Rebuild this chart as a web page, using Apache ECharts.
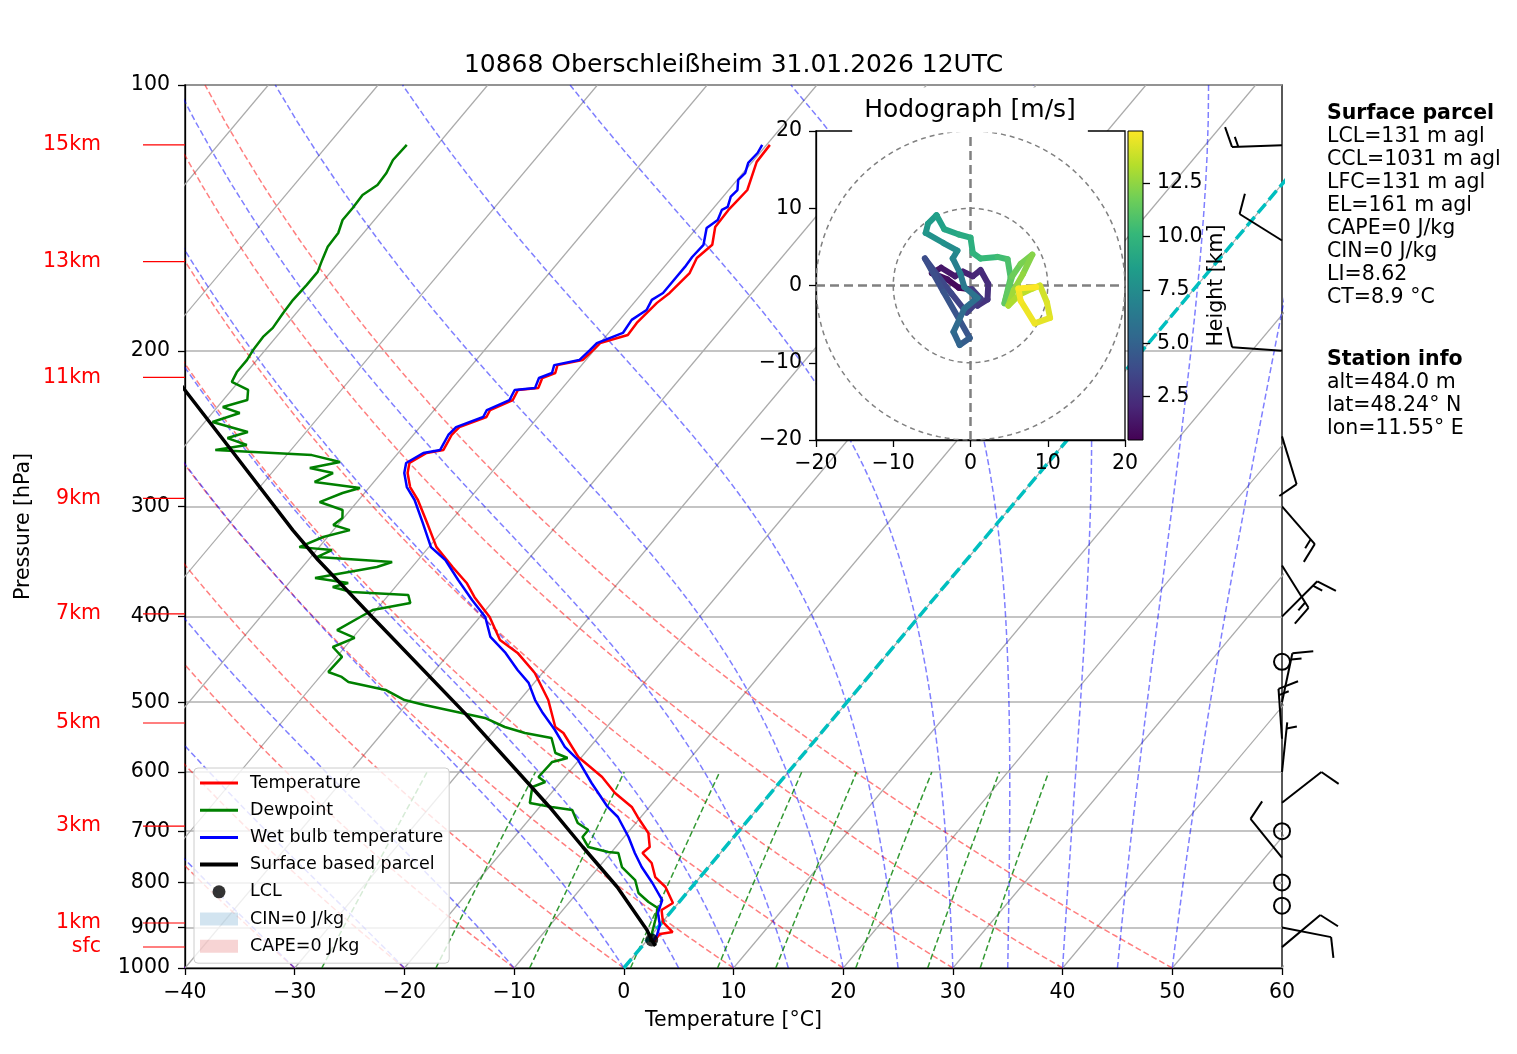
<!DOCTYPE html>
<html>
<head>
<meta charset="utf-8">
<script src="https://cdn.jsdelivr.net/npm/echarts@6/dist/echarts.min.js"></script>
<style>
  html, body { margin: 0; padding: 0; background: #fff; }
  #chart { width: 1517px; height: 1054px; }
</style>
</head>
<body>
<div id="chart"></div>
<script>
const FONT = 'DejaVu Sans';
const SKEW = 67.6; // degC shift per decade of pressure

// ---- sounding (hPa, degC) ----
const tempP = [116.9,122.2,131.5,134.9,138.5,144.8,151.7,157.0,163.3,172.0,176.5,186.0,191.9,196.0,199.6,204.9,207.6,211.9,214.7,220.3,221.5,227.4,233.4,237.7,244.0,249.1,259.0,261.1,268.0,275.1,285.3,295.1,313.3,333.7,351.5,366.4,380.2,400.4,425.1,439.7,463.3,497.2,533.4,541.8,576.8,607.7,633.6,657.1,674.5,703.2,729.4,740.9,760.5,788.8,809.6,844.0,859.6,887.0,910.5,915.3,929.6,934.5];
const tempT = [-49.7,-49.6,-48.3,-48.4,-48.5,-48.4,-47.3,-47.7,-47.2,-47.5,-47.9,-48.2,-48.1,-50.0,-50.1,-50.3,-52.2,-51.8,-52.6,-52.2,-53.9,-53.6,-54.9,-54.7,-56.4,-56.5,-56.1,-57.4,-58.2,-57.6,-56.3,-54.6,-52.0,-49.3,-46.3,-43.8,-42.0,-39.1,-36.4,-33.8,-30.7,-27.4,-24.7,-23.5,-20.3,-16.6,-14.2,-11.6,-10.3,-8.1,-6.9,-7.1,-5.5,-4.1,-2.4,-0.5,-1.0,0.05,1.7,0.7,0.7,0.9];

const dewP = [116.9,121.6,125.8,129.8,133.2,137.8,142.2,147.1,152.5,157.8,162.8,168.4,175.1,181.2,188.4,192.9,199.6,204.9,211.4,216.9,221.5,227.4,231.6,235.2,240.8,247.2,251.1,255.7,259.0,262.5,267.3,271.5,275.1,281.5,286.0,289.8,296.7,302.9,309.3,315.0,319.2,325.0,333.7,336.3,342.4,346.9,351.5,361.7,366.4,370.3,375.2,378.1,386.1,393.2,400.4,414.4,422.9,433.0,444.3,462.1,468.1,474.3,484.3,497.2,503.7,514.4,521.0,533.4,541.8,548.9,570.8,578.3,584.3,607.7,615.7,623.7,650.3,657.1,662.3,685.2,697.8,710.6,729.4,739.0,740.9,768.5,795.0,822.4,841.8,855.2,882.4,917.6,934.5];
const dewT = [-82.8,-82.9,-82.5,-82.4,-83.0,-82.9,-82.9,-82.3,-82.2,-81.7,-81.2,-81.2,-81.3,-81.2,-81.0,-81.2,-81.1,-80.9,-80.9,-80.6,-78.5,-77.8,-79.5,-77.5,-79.3,-75.3,-76.7,-74.4,-76.9,-67.7,-64.6,-66.9,-64.4,-65.4,-60.8,-62.0,-63.4,-60.7,-60.1,-60.4,-58.5,-60.4,-61.8,-58.6,-59.4,-52.2,-53.2,-58.0,-54.6,-55.7,-53.6,-48.2,-47.4,-50.3,-50.9,-52.0,-49.8,-51.1,-49.5,-49.6,-48.0,-47.0,-43.0,-40.5,-38.3,-34.3,-31.8,-29.3,-27.0,-24.2,-22.7,-21.2,-22.3,-22.4,-21.4,-22.2,-21.2,-18.9,-16.8,-15.3,-13.8,-13.8,-12.5,-10.3,-9.3,-7.9,-5.7,-4.4,-2.8,-1.5,-0.8,0.0,0.4];

const wetP = [116.9,119.4,122.5,125.8,128.1,131.5,133.8,137.4,138.5,142.2,145.2,151.7,156.6,160.7,165.0,172.0,175.1,179.8,184.5,190.9,196.0,199.6,204.9,207.6,211.9,214.7,220.3,221.5,227.4,233.4,237.7,244.0,249.1,259.0,261.1,268.0,275.1,285.3,295.1,313.3,333.7,345.1,363.6,383.1,400.4,421.8,439.7,459.7,475.5,497.2,514.4,537.6,561.9,581.3,617.3,657.1,674.5,710.6,740.9,768.5,801.2,837.7,866.3,894.0,917.6,934.5];
const wetT = [-50.4,-50.2,-50.3,-49.8,-49.9,-49.2,-49.3,-48.8,-49.1,-48.7,-49.1,-48.1,-48.2,-48.1,-48.1,-48.1,-48.6,-48.3,-48.9,-48.7,-50.3,-50.4,-50.6,-52.5,-52.1,-52.9,-52.5,-54.2,-53.9,-55.2,-55.0,-56.7,-56.8,-56.4,-57.7,-58.5,-57.9,-56.6,-54.9,-52.4,-49.8,-47.5,-44.8,-42.0,-39.5,-37.5,-34.9,-32.5,-30.5,-28.6,-26.9,-24.5,-22.3,-20.1,-17.1,-13.8,-12.1,-9.6,-7.8,-6.1,-3.9,-1.7,-1.1,0.0,0.5,0.6];

const parcelP = [944.2,929.6,905.6,809.6,729.4,657.1,617.3,514.5,400.4,345.1,319.2,261.1,221.4,200];
const parcelT = [1.2,0.4,-0.8,-6.8,-13.0,-19.1,-22.9,-34.0,-49.8,-59.1,-63.7,-75.0,-84.3,-90.0];

const lclP = [929.6];
const lclT = [0.4];

// ---- wind barbs (hPa, deg from, kt) ----
const windP   = [117,150,200,250,300,350,400,450,500,550,600,650,700,750,800,850,900,947];
const windDir = [268,302,274,163,139,148,45,0,12,356,6,52,0,321,0,0,101,50];
const windSpd = [15,10,10,10,15,15,15,0,15,15,5,10,0,10,0,0,10,10];

// ---- height marks ----
const heightP   = [116.9,158.5,214.3,293.8,397.2,527.9,690.6,889.3,946.7];
const heightLbl = ['15km','13km','11km','9km','7km','5km','3km','1km','sfc'];

// ---- hodograph (m/s, km) ----
const hodoU = [0.0,-1.5,-3.0,-5.0,-3.8,-2.0,-1.0,0.3,1.3,2.3,2.2,0.9,0.2,1.3,-0.5,-2.5,-5.9,-3.5,-0.1,-1.4,-2.2,-0.8,0.9,-0.8,-1.3,-2.3,-1.7,-3.5,-5.8,-5.5,-4.4,-3.4,-1.5,0.0,0.3,1.3,3.5,4.8,5.2,4.4,5.4,6.5,8.0,6.8,5.6,4.9,6.3,8.0,9.0,9.9,10.3,8.3,6.5,6.2,8.5];
const hodoV = [-0.5,-0.3,0.8,1.6,2.3,1.2,1.8,1.2,2.0,0.2,-1.8,-2.6,-0.5,-1.7,-3.5,-1.0,3.5,-0.8,-6.8,-7.7,-6.0,-3.0,-1.6,-0.2,1.5,3.5,4.5,5.5,6.8,8.0,9.1,7.3,6.6,6.2,4.2,3.5,3.7,3.4,1.0,-2.3,1.2,2.8,4.0,1.5,-0.6,-2.6,-1.2,-0.4,0.0,-2.2,-4.2,-4.9,-2.0,-0.4,-0.2];
const hodoH = [0.5,0.7,0.9,1.1,1.3,1.5,1.7,1.9,2.1,2.3,2.5,2.7,2.9,3.1,3.3,3.5,3.8,4.1,4.5,5.0,5.3,5.6,5.9,6.2,6.5,6.9,7.3,7.6,7.9,8.2,8.5,8.8,9.1,9.4,9.7,10.0,10.3,10.6,10.9,11.2,11.5,11.8,12.1,12.4,12.7,13.0,13.3,13.6,13.8,14.1,14.3,14.5,14.7,14.85,14.95];
const hodoRings = [10, 20];
const cbTicks = [2.5, 5, 7.5, 10, 12.5];
const CB_MIN = 0.476, CB_MAX = 14.93;

// ---- reference line parameters ----
const isoTemps   = [-100,-90,-80,-70,-60,-50,-40,-30,-20,-10,0,10,20,30,40,50,60];
const dryThetas  = [-50,-40,-30,-20,-10,0,10,20,30,40,50];
const moistT0    = [-50,-40,-30,-20,-10,0,5,10,15,20,25,30,35,40,45,50];
const mixRatios  = [0.0004,0.001,0.002,0.004,0.007,0.01,0.016,0.024,0.032];
const pressTicks = [100,200,300,400,500,600,700,800,900,1000];

const TITLE = '10868 Oberschleißheim 31.01.2026 12UTC';
const parcelInfo  = ['Surface parcel','LCL=131 m agl','CCL=1031 m agl','LFC=131 m agl','EL=161 m agl','CAPE=0 J/kg','CIN=0 J/kg','LI=8.62','CT=8.9 °C'];
const stationInfo = ['Station info','alt=484.0 m','lat=48.24° N','lon=11.55° E'];

// skew-T mapping: x = T + SKEW*log10(1000/p), y = log10(p)
const pt = (t, p) => [t + SKEW * (3 - Math.log10(p)), Math.log10(p)];
const minus = v => String(v).replace('-', '\u2212');

// thermodynamics for the background lines
const Rd = 287.04749, Lv = 2.50084e6, Cpd = 1004.666, EPS = 0.622, KAPPA = Rd / Cpd;
const satVap = T => 6.112 * Math.exp(17.67 * (T - 273.15) / (T - 29.65));
function dTdp(p, T) {
  const e = satVap(T), rs = EPS * e / (p - e);
  return (Rd * T + Lv * rs) / (Cpd + Lv * Lv * rs * EPS / (Rd * T * T)) / p;
}
function moistLine(t0) {
  let T = t0 + 273.15, p = 1000;
  const n = 90, dp = -900 / n, out = [pt(t0, p)];
  for (let i = 0; i < n; i++) {
    const k1 = dTdp(p, T), k2 = dTdp(p + dp / 2, T + dp / 2 * k1);
    const k3 = dTdp(p + dp / 2, T + dp / 2 * k2), k4 = dTdp(p + dp, T + dp * k3);
    T += dp / 6 * (k1 + 2 * k2 + 2 * k3 + k4); p += dp;
    out.push(pt(T - 273.15, p));
  }
  return out;
}
function dryLine(th) {
  const out = [];
  for (let p = 1000; p >= 100; p -= 10) out.push(pt((th + 273.15) * Math.pow(p / 1000, KAPPA) - 273.15, p));
  return out;
}
function mixLine(w) {
  const out = [];
  for (let p = 1000; p >= 600; p -= 10) {
    const v = Math.log(p * w / (EPS + w) / 6.112);
    out.push(pt(243.5 * v / (17.67 - v), p));
  }
  return out;
}

const series = [];
function bgLine(data, color, width, type) {
  series.push({ type: 'line', xAxisIndex: 0, yAxisIndex: 0, data, symbol: 'none', silent: true, z: 1,
    lineStyle: { color, width, type } });
}
isoTemps.forEach(t => bgLine([pt(t, 1000), pt(t, 100)], '#ababab', 1.2, 'solid'));
dryThetas.forEach(th => bgLine(dryLine(th), 'rgba(255,0,0,0.5)', 1.5, [6, 3]));
moistT0.forEach(t => bgLine(moistLine(t), 'rgba(0,0,255,0.5)', 1.5, [6, 3]));
mixRatios.forEach(w => bgLine(mixLine(w), 'rgba(0,128,0,0.8)', 1.5, [6, 3]));
bgLine([pt(0, 1000), pt(0, 100)], '#00bfbf', 3.5, [12, 5]);

// red height marks, drawn outward from the pressure axis
series.push({
  type: 'custom', xAxisIndex: 0, yAxisIndex: 0, z: 5, clip: false, silent: true,
  data: heightP.map(p => [-40, Math.log10(p)]),
  renderItem: (params, api) => {
    const c = api.coord([api.value(0), api.value(1)]);
    return { type: 'line', shape: { x1: c[0] - 42, y1: c[1], x2: c[0], y2: c[1] }, style: { stroke: '#ff0000', lineWidth: 1.2 } };
  }
});

function profile(name, P, T, color, width) {
  series.push({ type: 'line', name, xAxisIndex: 0, yAxisIndex: 0, symbol: 'none', z: 3,
    data: P.map((p, i) => pt(T[i], p)), lineStyle: { color, width }, itemStyle: { color } });
}
profile('Temperature', tempP, tempT, '#ff0000', 2.5);
profile('Dewpoint', dewP, dewT, '#008000', 2.5);
profile('Wet bulb temperature', wetP, wetT, '#0000ff', 2.5);
profile('Surface based parcel', parcelP, parcelT, '#000000', 3.5);
series.push({ type: 'scatter', name: 'LCL', xAxisIndex: 0, yAxisIndex: 0, z: 4, symbolSize: 13,
  itemStyle: { color: '#000' }, data: lclP.map((p, i) => pt(lclT[i], p)) });
series.push({ type: 'line', name: 'CIN=0 J/kg', xAxisIndex: 0, yAxisIndex: 0, symbol: 'none', data: [],
  lineStyle: { color: 'rgba(31,119,180,0.2)' }, itemStyle: { color: 'rgba(31,119,180,0.2)' } });
series.push({ type: 'line', name: 'CAPE=0 J/kg', xAxisIndex: 0, yAxisIndex: 0, symbol: 'none', data: [],
  lineStyle: { color: 'rgba(214,39,40,0.2)' }, itemStyle: { color: 'rgba(214,39,40,0.2)' } });

// wind barbs on the right spine
series.push({
  type: 'custom', xAxisIndex: 0, yAxisIndex: 0, z: 5, clip: false, silent: true,
  data: windP.map((p, i) => [60, Math.log10(p), windDir[i], windSpd[i]]),
  renderItem: (params, api) => {
    const c = api.coord([api.value(0), api.value(1)]);
    const st = { stroke: '#000', lineWidth: 2, fill: null };
    const spd = api.value(3);
    if (spd < 2.5) return { type: 'circle', shape: { cx: c[0], cy: c[1], r: 8 }, style: st };
    const a = api.value(2) * Math.PI / 180, L = 50, sp = 6.25;
    const sx = Math.sin(a), sy = -Math.cos(a), fx = -sy, fy = sx;
    const tip = [c[0] + sx * L, c[1] + sy * L];
    const kids = [{ type: 'line', shape: { x1: c[0], y1: c[1], x2: tip[0], y2: tip[1] }, style: st }];
    const full = Math.floor(spd / 10), half = (spd % 10) >= 5 ? 1 : 0;
    let k = 0;
    for (let i = 0; i < full; i++, k++) {
      const b = [tip[0] - sx * sp * k, tip[1] - sy * sp * k];
      kids.push({ type: 'line', shape: { x1: b[0], y1: b[1], x2: b[0] + fx * 20 + sx * 6.25, y2: b[1] + fy * 20 + sy * 6.25 }, style: st });
    }
    if (half) {
      if (full === 0) k = 1;
      const b = [tip[0] - sx * sp * k, tip[1] - sy * sp * k];
      kids.push({ type: 'line', shape: { x1: b[0], y1: b[1], x2: b[0] + fx * 10 + sx * 3.1, y2: b[1] + fy * 10 + sy * 3.1 }, style: st });
    }
    return { type: 'group', children: kids };
  }
});

// hodograph
const ringStyle = { color: '#808080', width: 1.5, type: [5, 4] };
hodoRings.forEach(r => {
  const d = [];
  for (let a = 0; a <= 360; a += 3) d.push([r * Math.cos(a * Math.PI / 180), r * Math.sin(a * Math.PI / 180)]);
  series.push({ type: 'line', xAxisIndex: 1, yAxisIndex: 2, data: d, symbol: 'none', silent: true, z: 8, lineStyle: ringStyle });
});
series.push({ type: 'line', xAxisIndex: 1, yAxisIndex: 2, data: [[-20, 0], [20, 0]], symbol: 'none', silent: true, z: 8,
  lineStyle: { color: '#808080', width: 2.5, type: [9, 5] } });
series.push({ type: 'line', xAxisIndex: 1, yAxisIndex: 2, data: [[0, -20], [0, 20]], symbol: 'none', silent: true, z: 8,
  lineStyle: { color: '#808080', width: 2.5, type: [9, 5] } });
const hodoIndex = series.length;
series.push({
  type: 'custom', xAxisIndex: 1, yAxisIndex: 2, z: 9, silent: true,
  data: hodoU.slice(0, -1).map((u, i) => [u, hodoV[i], hodoU[i + 1], hodoV[i + 1], (hodoH[i] + hodoH[i + 1]) / 2]),
  encode: { x: [0, 2], y: [1, 3] },
  renderItem: (params, api) => {
    const a = api.coord([api.value(0), api.value(1)]), b = api.coord([api.value(2), api.value(3)]);
    return { type: 'line', shape: { x1: a[0], y1: a[1], x2: b[0], y2: b[1] },
      style: { stroke: api.visual('color'), lineWidth: 6, lineCap: 'round' } };
  }
});

const viridis = ['#440154','#482878','#3e4989','#31688e','#26828e','#1f9e89','#35b779','#6ece58','#b5de2b','#fde725'];
const labelStyle = { fontFamily: FONT, fontSize: 20.5, color: '#000' };
const blackLine = { show: true, onZero: false, lineStyle: { color: '#000', width: 1.3 } };
const outTick = { show: true, length: 7, lineStyle: { color: '#000', width: 1.3 } };
const lineIcon = 'path://M0,0h38v3h-38z';

const graphics = [
  { type: 'text', x: 733.5, y: 65, z: 20, style: { text: TITLE, fontFamily: FONT, fontSize: 25, fill: '#000', align: 'center', verticalAlign: 'middle' } },
  { type: 'text', x: 970, y: 110, z: 20, style: { text: 'Hodograph [m/s]', fontFamily: FONT, fontSize: 25, fill: '#000', align: 'center', verticalAlign: 'middle',
    backgroundColor: '#fff', padding: [7, 12, 13, 12] } },
  { type: 'rect', z: 20, shape: { x: 1128, y: 131, width: 15, height: 309 },
    style: { stroke: '#000', lineWidth: 1,
      fill: new echarts.graphic.LinearGradient(0, 0, 0, 1, viridis.slice().reverse().map((c, i) => ({ offset: i / (viridis.length - 1), color: c }))) } }
];
parcelInfo.forEach((s, i) => graphics.push({ type: 'text', x: 1327, y: 114 + 23 * i, z: 20,
  style: { text: s, fontFamily: FONT, fontSize: 20.5, fontWeight: i === 0 ? 'bold' : 'normal', fill: '#000', verticalAlign: 'middle' } }));
stationInfo.forEach((s, i) => graphics.push({ type: 'text', x: 1327, y: 360 + 23 * i, z: 20,
  style: { text: s, fontFamily: FONT, fontSize: 20.5, fontWeight: i === 0 ? 'bold' : 'normal', fill: '#000', verticalAlign: 'middle' } }));

const option = {
  animation: false,
  backgroundColor: '#fff',
  grid: [
    { left: 185, top: 85, width: 1097, height: 883, show: true, borderColor: '#000', borderWidth: 1.3, backgroundColor: 'transparent' },
    { left: 816, top: 131, width: 309, height: 309, show: true, borderColor: '#000', borderWidth: 1.3, backgroundColor: '#fff', z: 6 },
    { left: 1128, top: 131, width: 15, height: 309, show: false }
  ],
  xAxis: [
    { type: 'value', gridIndex: 0, min: -40, max: 60, interval: 10, axisLine: blackLine, axisTick: outTick,
      axisLabel: Object.assign({ margin: 14, formatter: minus }, labelStyle), splitLine: { show: false },
      name: 'Temperature [°C]', nameLocation: 'middle', nameGap: 42, nameTextStyle: labelStyle },
    { type: 'value', gridIndex: 1, min: -20, max: 20, interval: 10, z: 7, axisLine: blackLine, axisTick: outTick,
      axisLabel: Object.assign({ margin: 13, formatter: minus }, labelStyle), splitLine: { show: false } },
    { type: 'value', gridIndex: 2, show: false, min: 0, max: 1 }
  ],
  yAxis: [
    { type: 'value', gridIndex: 0, min: 2, max: 3, inverse: true, axisLine: blackLine,
      axisTick: Object.assign({ customValues: pressTicks.map(p => Math.log10(p)) }, outTick),
      axisLabel: Object.assign({ margin: 15, customValues: pressTicks.map(p => Math.log10(p)), formatter: v => String(Math.round(Math.pow(10, v))) }, labelStyle),
      splitLine: { show: true, lineStyle: { color: '#b0b0b0', width: 1.5 } },
      name: 'Pressure [hPa]', nameLocation: 'middle', nameGap: 151, nameRotate: 90, nameTextStyle: labelStyle },
    { type: 'value', gridIndex: 0, min: 2, max: 3, inverse: true, position: 'left',
      axisLine: { show: false, onZero: false },
      axisTick: { show: false },
      axisLabel: { margin: 84, color: '#ff0000', fontFamily: FONT, fontSize: 20.5, customValues: heightP.map(p => Math.log10(p)),
        formatter: v => { const i = heightP.findIndex(p => Math.abs(Math.log10(p) - v) < 1e-6); return i < 0 ? '' : heightLbl[i]; } },
      splitLine: { show: false } },
    { type: 'value', gridIndex: 1, min: -20, max: 20, interval: 10, z: 7, axisLine: blackLine, axisTick: outTick,
      axisLabel: Object.assign({ margin: 14, formatter: minus }, labelStyle), splitLine: { show: false } },
    { type: 'value', gridIndex: 2, min: CB_MIN, max: CB_MAX, position: 'right', z: 21,
      axisLine: { show: false, onZero: false },
      axisTick: Object.assign({ customValues: cbTicks }, outTick),
      axisLabel: Object.assign({ margin: 14, customValues: cbTicks, formatter: v => v.toFixed(1) }, labelStyle),
      splitLine: { show: false },
      name: 'Height [km]', nameLocation: 'middle', nameGap: 58, nameRotate: 90, nameTextStyle: labelStyle }
  ],
  visualMap: { type: 'continuous', show: false, seriesIndex: hodoIndex, dimension: 4, min: CB_MIN, max: CB_MAX,
    inRange: { color: viridis } },
  legend: {
    left: 194, top: 768, orient: 'vertical', itemGap: 9.2, itemWidth: 38, itemHeight: 13,
    padding: [6, 6, 8, 6], backgroundColor: 'rgba(255,255,255,0.8)', borderColor: '#cccccc', borderWidth: 1, borderRadius: 4,
    selectedMode: false,
    textStyle: { fontFamily: FONT, fontSize: 17.5, color: '#000', padding: [0, 0, 0, 7] },
    data: [
      { name: 'Temperature', icon: lineIcon }, { name: 'Dewpoint', icon: lineIcon },
      { name: 'Wet bulb temperature', icon: lineIcon }, { name: 'Surface based parcel', icon: 'path://M0,0h38v4h-38z' },
      { name: 'LCL', icon: 'circle' },
      { name: 'CIN=0 J/kg', icon: 'rect' },
      { name: 'CAPE=0 J/kg', icon: 'rect' }
    ]
  },
  graphic: graphics,
  series
};

const chart = echarts.init(document.getElementById('chart'));
chart.setOption(option);
</script>
</body>
</html>
